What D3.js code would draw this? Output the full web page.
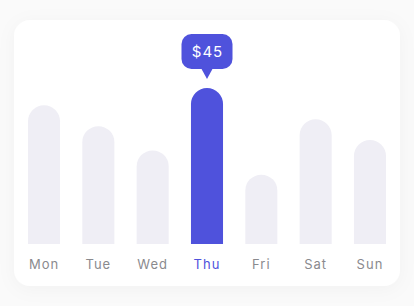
<!DOCTYPE html>
<html>
<head>
<meta charset="utf-8">
<script src="https://cdn.jsdelivr.net/npm/d3@7"></script>
<style>
  html, body { margin: 0; padding: 0; background: #fafafa; }
  #chart { width: 414px; height: 306px; }
</style>
</head>
<body>
<div id="chart"></div>
<script>
const days = ['Mon', 'Tue', 'Wed', 'Thu', 'Fri', 'Sat', 'Sun'];
const spend = [40, 34, 27, 45, 20, 36, 30];
const activeDay = 'Thu';

const width = 414;
const height = 306;
const accent = '#4f52dc';

const svg = d3.select('#chart').append('svg').attr('width', width).attr('height', height);

const defs = svg.append('defs');
const shadow = defs.append('filter').attr('id', 'shadow')
  .attr('x', '-20%').attr('y', '-20%').attr('width', '140%').attr('height', '140%');
shadow.append('feDropShadow')
  .attr('dx', 0).attr('dy', 3).attr('stdDeviation', 9)
  .attr('flood-color', '#1e1e3c').attr('flood-opacity', 0.035);

// card
svg.append('rect')
  .attr('x', 14).attr('y', 20)
  .attr('width', 386).attr('height', 266)
  .attr('rx', 16)
  .attr('fill', '#fff')
  .attr('filter', 'url(#shadow)');

const baseline = 244;
const x = d3.scaleBand().domain(days).range([28, 386]).paddingInner(0.41).paddingOuter(0);
const y = d3.scaleLinear().domain([0, 45]).range([baseline, 88]);
const bw = x.bandwidth();
const r = bw / 2;

// bars with a rounded top, flat bottom
const barPath = (d, i) => {
  const x0 = x(days[i]);
  const top = y(d);
  return `M${x0},${baseline} L${x0},${top + r} A${r},${r} 0 0 1 ${x0 + bw},${top + r} L${x0 + bw},${baseline} Z`;
};

svg.selectAll('path.bar')
  .data(spend)
  .enter()
  .append('path')
  .attr('class', 'bar')
  .attr('d', barPath)
  .attr('fill', (_, i) => days[i] === activeDay ? accent : '#efeef5');

// day labels
svg.selectAll('text.day')
  .data(days)
  .enter()
  .append('text')
  .attr('class', 'day')
  .attr('x', (d) => x(d) + bw / 2)
  .attr('y', 269)
  .attr('text-anchor', 'middle')
  .attr('font-family', 'Inter, sans-serif')
  .attr('font-size', 13)
  .attr('letter-spacing', 1)
  .attr('fill', (d) => d === activeDay ? accent : '#8a8a8e')
  .text((d) => d);

// tooltip over the active bar
const ai = days.indexOf(activeDay);
const cx = x(activeDay) + bw / 2;
const tipY = y(spend[ai]) - 9;
const boxW = 51, boxH = 35;
const boxTop = tipY - 10 - boxH;

const tip = svg.append('g');
tip.append('rect')
  .attr('x', cx - boxW / 2).attr('y', boxTop)
  .attr('width', boxW).attr('height', boxH)
  .attr('rx', 10)
  .attr('fill', accent);
tip.append('path')
  .attr('d', `M${cx - 6},${boxTop + boxH - 1} L${cx + 6},${boxTop + boxH - 1} L${cx},${tipY} Z`)
  .attr('fill', accent);
tip.append('text')
  .attr('x', cx + 0.5)
  .attr('y', boxTop + boxH / 2 + 5)
  .attr('text-anchor', 'middle')
  .attr('font-family', 'Inter, sans-serif')
  .attr('font-size', 15)
  .attr('letter-spacing', 1)
  .attr('fill', '#fff')
  .text('$' + spend[ai]);
</script>
</body>
</html>
